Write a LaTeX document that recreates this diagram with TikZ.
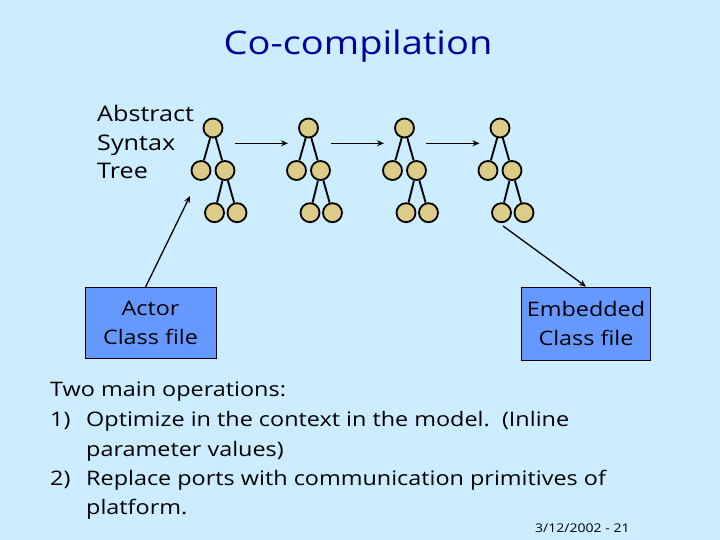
\documentclass[tikz,border=0pt]{standalone}
\usepackage{fontspec}
\setmainfont{Open Sans}[FakeStretch=1.17]
\usetikzlibrary{arrows.meta}
\definecolor{bgblue}{RGB}{204,236,255}
\definecolor{boxblue}{RGB}{102,153,255}
\definecolor{tan}{RGB}{221,204,136}
\definecolor{titleblue}{RGB}{0,0,153}
\tikzset{
  tn/.style={circle,draw=black,line width=1.8pt,fill=tan,minimum size=19pt,inner sep=0pt},
  edge/.style={line width=1.9pt},
  conn/.style={line width=1.3pt,-{Stealth[length=7pt,width=6pt]}},
  filebox/.style={draw=black,line width=0.8pt,fill=boxblue,align=center,font=\fontsize{20}{29.5}\selectfont,inner sep=0pt},
  body/.style={anchor=base west,font=\fontsize{20}{24}\selectfont,inner sep=0pt}
}
\begin{document}
\begin{tikzpicture}[x=1pt,y=-1pt]
\useasboundingbox[fill=bgblue] (0,0) rectangle (720,540);
\node[anchor=base,font=\fontsize{32.5}{36}\selectfont,text=titleblue,inner sep=0pt] (title) at (358,54.3) {Co-compilation};
\node[anchor=base west,font=\fontsize{21.5}{24}\selectfont,inner sep=0pt] (ast1) at (97,121.7) {Abstract};
\node[anchor=base west,font=\fontsize{21.5}{24}\selectfont,inner sep=0pt] (ast2) at (97,150.2) {Syntax};
\node[anchor=base west,font=\fontsize{21.5}{24}\selectfont,inner sep=0pt] (ast3) at (97,178.5) {Tree};
\foreach \i/\x in {1/213,2/308.5,3/404.5,4/500}{
  \node[tn] (r\i) at (\x,128) {};
  \node[tn] (a\i) at (\x-12,170.5) {};
  \node[tn] (b\i) at (\x+12,170.5) {};
  \node[tn] (c\i) at (\x+1.5,212.7) {};
  \node[tn] (d\i) at (\x+24,212.7) {};
  \draw[edge] (r\i) -- (a\i);
  \draw[edge] (r\i) -- (b\i);
  \draw[edge] (b\i) -- (c\i);
  \draw[edge] (b\i) -- (d\i);
}
\coordinate (s1) at (235,143.3); \coordinate (e1) at (288,143.3);
\coordinate (s2) at (331,143.3); \coordinate (e2) at (384,143.3);
\coordinate (s3) at (426,143.3); \coordinate (e3) at (479.5,143.3);
\draw[conn] (s1) -- (e1);
\draw[conn] (s2) -- (e2);
\draw[conn] (s3) -- (e3);
\node[filebox,minimum width=131pt,minimum height=71pt] (actor) at (150.5,323) {Actor\\Class file};
\node[filebox,minimum width=129pt,minimum height=73pt] (emb) at (586,323.5) {Embedded\\Class file};
\coordinate (up1) at (190,196);
\draw[conn] (actor.north) ++(-5,0) coordinate (ua) -- (up1);
\coordinate (dn1) at (503,226);
\draw[conn] (dn1) -- (emb.north);
\node[body] (l1) at (50,396.7) {Two main operations:};
\node[body] (l2) at (50,426.5) {1)};
\node[body] (l2b) at (86,426.5) {Optimize in the context in the model.\ \ (Inline};
\node[body] (l3) at (86,456) {parameter values)};
\node[body] (l4) at (50,485.3) {2)};
\node[body] (l4b) at (86,485.3) {Replace ports with communication primitives of};
\node[body] (l5) at (86,514.5) {platform.};
\node[anchor=base west,font=\fontsize{12}{14}\selectfont,inner sep=0pt] (foot) at (535,532) {3/12/2002 - 21};
\end{tikzpicture}
\end{document}
